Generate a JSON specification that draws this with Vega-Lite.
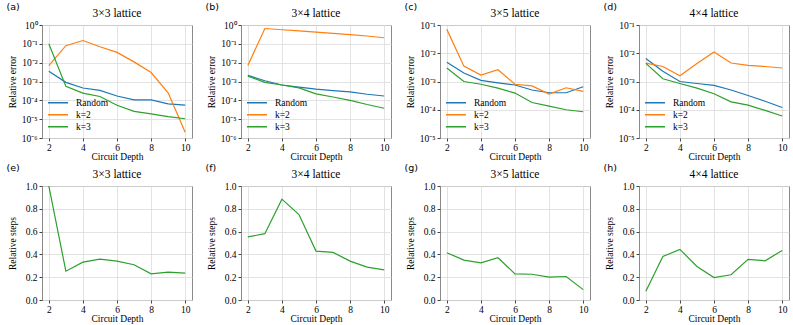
{
"$schema": "https://vega.github.io/schema/vega-lite/v6.json",
"padding": {"left": 6, "top": 1, "right": 0, "bottom": 0},
"datasets": {
"err": [
{"panel":"a","method":"Random","depth":2,"value":3.5e-3},{"panel":"a","method":"Random","depth":3,"value":9e-4},{"panel":"a","method":"Random","depth":4,"value":4.5e-4},{"panel":"a","method":"Random","depth":5,"value":3.4e-4},{"panel":"a","method":"Random","depth":6,"value":1.7e-4},{"panel":"a","method":"Random","depth":7,"value":1.05e-4},{"panel":"a","method":"Random","depth":8,"value":1.05e-4},{"panel":"a","method":"Random","depth":9,"value":6.5e-5},{"panel":"a","method":"Random","depth":10,"value":5.5e-5},
{"panel":"a","method":"k=2","depth":2,"value":7e-3},{"panel":"a","method":"k=2","depth":3,"value":8e-2},{"panel":"a","method":"k=2","depth":4,"value":1.5e-1},{"panel":"a","method":"k=2","depth":5,"value":7e-2},{"panel":"a","method":"k=2","depth":6,"value":3.5e-2},{"panel":"a","method":"k=2","depth":7,"value":1.1e-2},{"panel":"a","method":"k=2","depth":8,"value":3e-3},{"panel":"a","method":"k=2","depth":9,"value":2.5e-4},{"panel":"a","method":"k=2","depth":10,"value":2e-6},
{"panel":"a","method":"k=3","depth":2,"value":1e-1},{"panel":"a","method":"k=3","depth":3,"value":5.5e-4},{"panel":"a","method":"k=3","depth":4,"value":2.4e-4},{"panel":"a","method":"k=3","depth":5,"value":1.6e-4},{"panel":"a","method":"k=3","depth":6,"value":5.5e-5},{"panel":"a","method":"k=3","depth":7,"value":2.6e-5},{"panel":"a","method":"k=3","depth":8,"value":1.9e-5},{"panel":"a","method":"k=3","depth":9,"value":1.35e-5},{"panel":"a","method":"k=3","depth":10,"value":1.05e-5},
{"panel":"b","method":"Random","depth":2,"value":2.1e-3},{"panel":"b","method":"Random","depth":3,"value":1.1e-3},{"panel":"b","method":"Random","depth":4,"value":6.5e-4},{"panel":"b","method":"Random","depth":5,"value":5e-4},{"panel":"b","method":"Random","depth":6,"value":3.9e-4},{"panel":"b","method":"Random","depth":7,"value":3.3e-4},{"panel":"b","method":"Random","depth":8,"value":2.8e-4},{"panel":"b","method":"Random","depth":9,"value":2.1e-4},{"panel":"b","method":"Random","depth":10,"value":1.7e-4},
{"panel":"b","method":"k=2","depth":2,"value":7e-3},{"panel":"b","method":"k=2","depth":3,"value":0.65},{"panel":"b","method":"k=2","depth":4,"value":0.56},{"panel":"b","method":"k=2","depth":5,"value":0.49},{"panel":"b","method":"k=2","depth":6,"value":0.42},{"panel":"b","method":"k=2","depth":7,"value":0.36},{"panel":"b","method":"k=2","depth":8,"value":0.31},{"panel":"b","method":"k=2","depth":9,"value":0.26},{"panel":"b","method":"k=2","depth":10,"value":0.21},
{"panel":"b","method":"k=3","depth":2,"value":1.9e-3},{"panel":"b","method":"k=3","depth":3,"value":9e-4},{"panel":"b","method":"k=3","depth":4,"value":6.5e-4},{"panel":"b","method":"k=3","depth":5,"value":4.6e-4},{"panel":"b","method":"k=3","depth":6,"value":2.2e-4},{"panel":"b","method":"k=3","depth":7,"value":1.5e-4},{"panel":"b","method":"k=3","depth":8,"value":1e-4},{"panel":"b","method":"k=3","depth":9,"value":6e-5},{"panel":"b","method":"k=3","depth":10,"value":3.8e-5},
{"panel":"c","method":"Random","depth":2,"value":4.8e-3},{"panel":"c","method":"Random","depth":3,"value":2e-3},{"panel":"c","method":"Random","depth":4,"value":1.1e-3},{"panel":"c","method":"Random","depth":5,"value":9e-4},{"panel":"c","method":"Random","depth":6,"value":7.5e-4},{"panel":"c","method":"Random","depth":7,"value":5e-4},{"panel":"c","method":"Random","depth":8,"value":4e-4},{"panel":"c","method":"Random","depth":9,"value":4e-4},{"panel":"c","method":"Random","depth":10,"value":6.5e-4},
{"panel":"c","method":"k=2","depth":2,"value":7e-2},{"panel":"c","method":"k=2","depth":3,"value":3.5e-3},{"panel":"c","method":"k=2","depth":4,"value":1.7e-3},{"panel":"c","method":"k=2","depth":5,"value":2.6e-3},{"panel":"c","method":"k=2","depth":6,"value":8e-4},{"panel":"c","method":"k=2","depth":7,"value":7e-4},{"panel":"c","method":"k=2","depth":8,"value":3.6e-4},{"panel":"c","method":"k=2","depth":9,"value":6e-4},{"panel":"c","method":"k=2","depth":10,"value":4.5e-4},
{"panel":"c","method":"k=3","depth":2,"value":3e-3},{"panel":"c","method":"k=3","depth":3,"value":1e-3},{"panel":"c","method":"k=3","depth":4,"value":8e-4},{"panel":"c","method":"k=3","depth":5,"value":5.8e-4},{"panel":"c","method":"k=3","depth":6,"value":3.9e-4},{"panel":"c","method":"k=3","depth":7,"value":1.8e-4},{"panel":"c","method":"k=3","depth":8,"value":1.35e-4},{"panel":"c","method":"k=3","depth":9,"value":1e-4},{"panel":"c","method":"k=3","depth":10,"value":8.5e-5},
{"panel":"d","method":"Random","depth":2,"value":6.5e-3},{"panel":"d","method":"Random","depth":3,"value":2.3e-3},{"panel":"d","method":"Random","depth":4,"value":1e-3},{"panel":"d","method":"Random","depth":5,"value":8.5e-4},{"panel":"d","method":"Random","depth":6,"value":7.3e-4},{"panel":"d","method":"Random","depth":7,"value":5e-4},{"panel":"d","method":"Random","depth":8,"value":3.2e-4},{"panel":"d","method":"Random","depth":9,"value":2e-4},{"panel":"d","method":"Random","depth":10,"value":1.2e-4},
{"panel":"d","method":"k=2","depth":2,"value":4.5e-3},{"panel":"d","method":"k=2","depth":3,"value":3.4e-3},{"panel":"d","method":"k=2","depth":4,"value":1.6e-3},{"panel":"d","method":"k=2","depth":5,"value":4.3e-3},{"panel":"d","method":"k=2","depth":6,"value":1.1e-2},{"panel":"d","method":"k=2","depth":7,"value":4.5e-3},{"panel":"d","method":"k=2","depth":8,"value":3.7e-3},{"panel":"d","method":"k=2","depth":9,"value":3.4e-3},{"panel":"d","method":"k=2","depth":10,"value":3e-3},
{"panel":"d","method":"k=3","depth":2,"value":4.4e-3},{"panel":"d","method":"k=3","depth":3,"value":1.25e-3},{"panel":"d","method":"k=3","depth":4,"value":8.5e-4},{"panel":"d","method":"k=3","depth":5,"value":5.8e-4},{"panel":"d","method":"k=3","depth":6,"value":3.7e-4},{"panel":"d","method":"k=3","depth":7,"value":1.9e-4},{"panel":"d","method":"k=3","depth":8,"value":1.45e-4},{"panel":"d","method":"k=3","depth":9,"value":9.5e-5},{"panel":"d","method":"k=3","depth":10,"value":6e-5}
],
"steps": [
{"panel":"e","depth":2,"value":1.0},{"panel":"e","depth":3,"value":0.253},{"panel":"e","depth":4,"value":0.332},{"panel":"e","depth":5,"value":0.359},{"panel":"e","depth":6,"value":0.341},{"panel":"e","depth":7,"value":0.309},{"panel":"e","depth":8,"value":0.229},{"panel":"e","depth":9,"value":0.244},{"panel":"e","depth":10,"value":0.235},
{"panel":"f","depth":2,"value":0.553},{"panel":"f","depth":3,"value":0.582},{"panel":"f","depth":4,"value":0.885},{"panel":"f","depth":5,"value":0.75},{"panel":"f","depth":6,"value":0.429},{"panel":"f","depth":7,"value":0.418},{"panel":"f","depth":8,"value":0.341},{"panel":"f","depth":9,"value":0.288},{"panel":"f","depth":10,"value":0.265},
{"panel":"g","depth":2,"value":0.415},{"panel":"g","depth":3,"value":0.35},{"panel":"g","depth":4,"value":0.326},{"panel":"g","depth":5,"value":0.371},{"panel":"g","depth":6,"value":0.229},{"panel":"g","depth":7,"value":0.226},{"panel":"g","depth":8,"value":0.2},{"panel":"g","depth":9,"value":0.206},{"panel":"g","depth":10,"value":0.091},
{"panel":"h","depth":2,"value":0.076},{"panel":"h","depth":3,"value":0.382},{"panel":"h","depth":4,"value":0.444},{"panel":"h","depth":5,"value":0.294},{"panel":"h","depth":6,"value":0.197},{"panel":"h","depth":7,"value":0.221},{"panel":"h","depth":8,"value":0.356},{"panel":"h","depth":9,"value":0.344},{"panel":"h","depth":10,"value":0.435}
]
},
"config": {
"font": "Liberation Serif",
"view": {"stroke": "#8a8a8a", "strokeWidth": 1},
"axis": {"labelFont": "Liberation Serif", "labelFontSize": 9.5, "labelColor": "#000", "titleFont": "Liberation Serif", "titleFontSize": 9.5, "titleFontWeight": "normal", "titleColor": "#000", "gridColor": "#dcdcdc", "gridWidth": 0.8, "domain": false, "tickColor": "#444", "tickSize": 3},
"axisX": {"titlePadding": 0, "labelPadding": 1},
"axisY": {"titlePadding": 1, "labelPadding": 2, "minExtent": 24, "maxExtent": 24},
"title": {"font": "Liberation Serif", "fontSize": 11.5, "fontWeight": "normal", "color": "#000", "offset": 1},
"legend": {"labelFont": "Liberation Serif", "labelFontSize": 9.5, "labelColor": "#000"}
},
"spacing": 0,
"resolve": {"scale": {"x": "independent", "y": "independent", "color": "independent"}, "legend": {"color": "independent"}},
"vconcat": [
{
"spacing": 12,
"resolve": {"scale": {"x": "independent", "y": "independent", "color": "independent"}, "legend": {"color": "independent"}},
"hconcat": [
{"title": {"text": "(a)", "anchor": "start", "font": "DejaVu Sans", "fontSize": 9.5, "fontWeight": "normal", "offset": -4},
 "resolve": {"scale": {"color": "independent"}, "legend": {"color": "independent"}},
 "vconcat": [{
 "width": 150, "height": 113, "title": "3×3 lattice",
 "view": {"stroke": "#8a8a8a", "strokeWidth": 1},
 "data": {"name": "err"}, "transform": [{"filter": "datum.panel === 'a'"}],
 "mark": {"type": "line", "strokeWidth": 1.2, "clip": true},
 "encoding": {
  "x": {"field": "depth", "type": "quantitative", "scale": {"domain": [1.6, 10.4], "nice": false, "zero": false}, "axis": {"values": [2, 4, 6, 8, 10], "title": "Circuit Depth"}},
  "y": {"field": "value", "type": "quantitative", "scale": {"type": "log", "domain": [1e-6, 1], "nice": false}, "axis": {"values": [1e-6, 1e-5, 1e-4, 1e-3, 1e-2, 1e-1, 1], "labelExpr": "'10' + ['⁰','⁻¹','⁻²','⁻³','⁻⁴','⁻⁵','⁻⁶'][round(-log(datum.value)/LN10)]", "title": "Relative error"}},
  "color": {"field": "method", "type": "nominal", "scale": {"domain": ["Random", "k=2", "k=3"], "range": ["#1f77b4", "#ff7f0e", "#2ca02c"]}, "legend": {"orient": "bottom-left", "title": null, "symbolType": "stroke", "symbolSize": 400, "symbolStrokeWidth": 1.5, "clipHeight": 11.5, "rowPadding": 0, "labelOffset": 7, "padding": 0, "offset": 5}}
 }}]},
{"title": {"text": "(b)", "anchor": "start", "font": "DejaVu Sans", "fontSize": 9.5, "fontWeight": "normal", "offset": -4},
 "resolve": {"scale": {"color": "independent"}, "legend": {"color": "independent"}},
 "vconcat": [{
 "width": 150, "height": 113, "title": "3×4 lattice",
 "view": {"stroke": "#8a8a8a", "strokeWidth": 1},
 "data": {"name": "err"}, "transform": [{"filter": "datum.panel === 'b'"}],
 "mark": {"type": "line", "strokeWidth": 1.2, "clip": true},
 "encoding": {
  "x": {"field": "depth", "type": "quantitative", "scale": {"domain": [1.6, 10.4], "nice": false, "zero": false}, "axis": {"values": [2, 4, 6, 8, 10], "title": "Circuit Depth"}},
  "y": {"field": "value", "type": "quantitative", "scale": {"type": "log", "domain": [1e-6, 1], "nice": false}, "axis": {"values": [1e-6, 1e-5, 1e-4, 1e-3, 1e-2, 1e-1, 1], "labelExpr": "'10' + ['⁰','⁻¹','⁻²','⁻³','⁻⁴','⁻⁵','⁻⁶'][round(-log(datum.value)/LN10)]", "title": "Relative error"}},
  "color": {"field": "method", "type": "nominal", "scale": {"domain": ["Random", "k=2", "k=3"], "range": ["#1f77b4", "#ff7f0e", "#2ca02c"]}, "legend": {"orient": "bottom-left", "title": null, "symbolType": "stroke", "symbolSize": 400, "symbolStrokeWidth": 1.5, "clipHeight": 11.5, "rowPadding": 0, "labelOffset": 7, "padding": 0, "offset": 5}}
 }}]},
{"title": {"text": "(c)", "anchor": "start", "font": "DejaVu Sans", "fontSize": 9.5, "fontWeight": "normal", "offset": -4},
 "resolve": {"scale": {"color": "independent"}, "legend": {"color": "independent"}},
 "vconcat": [{
 "width": 150, "height": 113, "title": "3×5 lattice",
 "view": {"stroke": "#8a8a8a", "strokeWidth": 1},
 "data": {"name": "err"}, "transform": [{"filter": "datum.panel === 'c'"}],
 "mark": {"type": "line", "strokeWidth": 1.2, "clip": true},
 "encoding": {
  "x": {"field": "depth", "type": "quantitative", "scale": {"domain": [1.6, 10.4], "nice": false, "zero": false}, "axis": {"values": [2, 4, 6, 8, 10], "title": "Circuit Depth"}},
  "y": {"field": "value", "type": "quantitative", "scale": {"type": "log", "domain": [1e-5, 1e-1], "nice": false}, "axis": {"values": [1e-5, 1e-4, 1e-3, 1e-2, 1e-1], "labelExpr": "'10' + ['⁰','⁻¹','⁻²','⁻³','⁻⁴','⁻⁵','⁻⁶'][round(-log(datum.value)/LN10)]", "title": "Relative error"}},
  "color": {"field": "method", "type": "nominal", "scale": {"domain": ["Random", "k=2", "k=3"], "range": ["#1f77b4", "#ff7f0e", "#2ca02c"]}, "legend": {"orient": "bottom-left", "title": null, "symbolType": "stroke", "symbolSize": 400, "symbolStrokeWidth": 1.5, "clipHeight": 11.5, "rowPadding": 0, "labelOffset": 7, "padding": 0, "offset": 5}}
 }}]},
{"title": {"text": "(d)", "anchor": "start", "font": "DejaVu Sans", "fontSize": 9.5, "fontWeight": "normal", "offset": -4},
 "resolve": {"scale": {"color": "independent"}, "legend": {"color": "independent"}},
 "vconcat": [{
 "width": 150, "height": 113, "title": "4×4 lattice",
 "view": {"stroke": "#8a8a8a", "strokeWidth": 1},
 "data": {"name": "err"}, "transform": [{"filter": "datum.panel === 'd'"}],
 "mark": {"type": "line", "strokeWidth": 1.2, "clip": true},
 "encoding": {
  "x": {"field": "depth", "type": "quantitative", "scale": {"domain": [1.6, 10.4], "nice": false, "zero": false}, "axis": {"values": [2, 4, 6, 8, 10], "title": "Circuit Depth"}},
  "y": {"field": "value", "type": "quantitative", "scale": {"type": "log", "domain": [1e-5, 1e-1], "nice": false}, "axis": {"values": [1e-5, 1e-4, 1e-3, 1e-2, 1e-1], "labelExpr": "'10' + ['⁰','⁻¹','⁻²','⁻³','⁻⁴','⁻⁵','⁻⁶'][round(-log(datum.value)/LN10)]", "title": "Relative error"}},
  "color": {"field": "method", "type": "nominal", "scale": {"domain": ["Random", "k=2", "k=3"], "range": ["#1f77b4", "#ff7f0e", "#2ca02c"]}, "legend": {"orient": "bottom-left", "title": null, "symbolType": "stroke", "symbolSize": 400, "symbolStrokeWidth": 1.5, "clipHeight": 11.5, "rowPadding": 0, "labelOffset": 7, "padding": 0, "offset": 5}}
 }}]}
]},
{
"spacing": 12,
"resolve": {"scale": {"x": "independent", "y": "independent"}},
"hconcat": [
{"title": {"text": "(e)", "anchor": "start", "font": "DejaVu Sans", "fontSize": 9.5, "fontWeight": "normal", "offset": -4},
 "vconcat": [{
 "width": 150, "height": 114, "title": "3×3 lattice",
 "view": {"stroke": "#8a8a8a", "strokeWidth": 1},
 "data": {"name": "steps"}, "transform": [{"filter": "datum.panel === 'e'"}],
 "mark": {"type": "line", "strokeWidth": 1.2, "clip": true, "color": "#2ca02c"},
 "encoding": {
  "x": {"field": "depth", "type": "quantitative", "scale": {"domain": [1.6, 10.4], "nice": false, "zero": false}, "axis": {"values": [2, 4, 6, 8, 10], "title": "Circuit Depth"}},
  "y": {"field": "value", "type": "quantitative", "scale": {"domain": [0, 1], "nice": false}, "axis": {"values": [0, 0.2, 0.4, 0.6, 0.8, 1], "format": ".1f", "title": "Relative steps"}}
 }}]},
{"title": {"text": "(f)", "anchor": "start", "font": "DejaVu Sans", "fontSize": 9.5, "fontWeight": "normal", "offset": -4},
 "vconcat": [{
 "width": 150, "height": 114, "title": "3×4 lattice",
 "view": {"stroke": "#8a8a8a", "strokeWidth": 1},
 "data": {"name": "steps"}, "transform": [{"filter": "datum.panel === 'f'"}],
 "mark": {"type": "line", "strokeWidth": 1.2, "clip": true, "color": "#2ca02c"},
 "encoding": {
  "x": {"field": "depth", "type": "quantitative", "scale": {"domain": [1.6, 10.4], "nice": false, "zero": false}, "axis": {"values": [2, 4, 6, 8, 10], "title": "Circuit Depth"}},
  "y": {"field": "value", "type": "quantitative", "scale": {"domain": [0, 1], "nice": false}, "axis": {"values": [0, 0.2, 0.4, 0.6, 0.8, 1], "format": ".1f", "title": "Relative steps"}}
 }}]},
{"title": {"text": "(g)", "anchor": "start", "font": "DejaVu Sans", "fontSize": 9.5, "fontWeight": "normal", "offset": -4},
 "vconcat": [{
 "width": 150, "height": 114, "title": "3×5 lattice",
 "view": {"stroke": "#8a8a8a", "strokeWidth": 1},
 "data": {"name": "steps"}, "transform": [{"filter": "datum.panel === 'g'"}],
 "mark": {"type": "line", "strokeWidth": 1.2, "clip": true, "color": "#2ca02c"},
 "encoding": {
  "x": {"field": "depth", "type": "quantitative", "scale": {"domain": [1.6, 10.4], "nice": false, "zero": false}, "axis": {"values": [2, 4, 6, 8, 10], "title": "Circuit Depth"}},
  "y": {"field": "value", "type": "quantitative", "scale": {"domain": [0, 1], "nice": false}, "axis": {"values": [0, 0.2, 0.4, 0.6, 0.8, 1], "format": ".1f", "title": "Relative steps"}}
 }}]},
{"title": {"text": "(h)", "anchor": "start", "font": "DejaVu Sans", "fontSize": 9.5, "fontWeight": "normal", "offset": -4},
 "vconcat": [{
 "width": 150, "height": 114, "title": "4×4 lattice",
 "view": {"stroke": "#8a8a8a", "strokeWidth": 1},
 "data": {"name": "steps"}, "transform": [{"filter": "datum.panel === 'h'"}],
 "mark": {"type": "line", "strokeWidth": 1.2, "clip": true, "color": "#2ca02c"},
 "encoding": {
  "x": {"field": "depth", "type": "quantitative", "scale": {"domain": [1.6, 10.4], "nice": false, "zero": false}, "axis": {"values": [2, 4, 6, 8, 10], "title": "Circuit Depth"}},
  "y": {"field": "value", "type": "quantitative", "scale": {"domain": [0, 1], "nice": false}, "axis": {"values": [0, 0.2, 0.4, 0.6, 0.8, 1], "format": ".1f", "title": "Relative steps"}}
 }}]}
]}
]
}
